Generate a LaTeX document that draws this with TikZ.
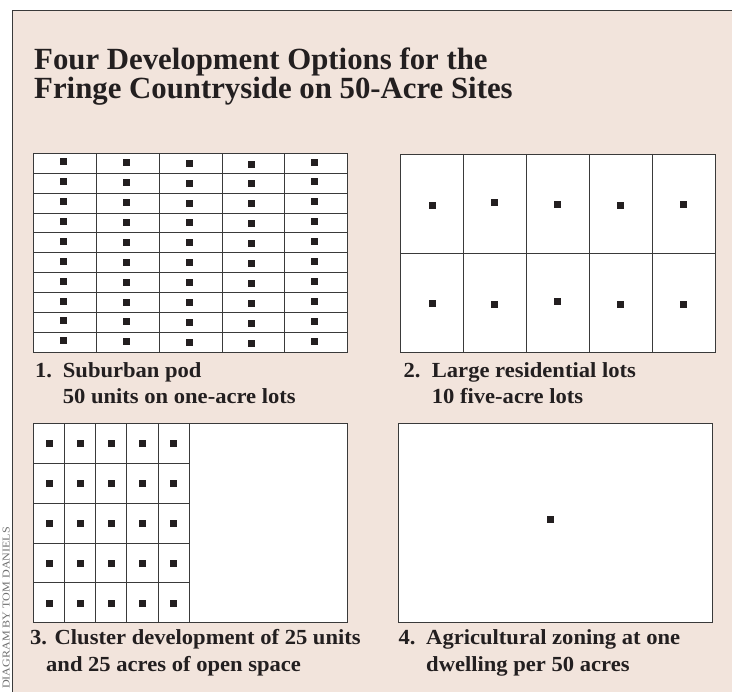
\documentclass[tikz,border=0pt]{standalone}
\usepackage{fontspec}
\setmainfont{Liberation Serif}
\newfontfamily\capfont[FakeStretch=1.05]{Liberation Serif}
\newfontfamily\creditfont[FakeStretch=1.15]{Liberation Serif}
\definecolor{bg}{HTML}{F2E4DC}
\definecolor{ink}{HTML}{231F20}
\definecolor{rule}{HTML}{3A3A3A}
\definecolor{credit}{HTML}{707070}
\begin{document}
\begin{tikzpicture}[x=1pt,y=-1pt,
  grid/.style={draw=rule,line width=0.8pt},
  panel/.style={draw=rule,fill=white,line width=0.9pt},
  dot/.style={fill=ink},
  ttl/.style={inner sep=0pt,anchor=base west,text=ink,font=\bfseries\fontsize{30.8}{32}\selectfont},
  captxt/.style={inner sep=0pt,anchor=base west,text=ink,font=\capfont\bfseries\fontsize{21.5}{24}\selectfont}]
\useasboundingbox (0,0) rectangle (732,692);
% background and frame
\fill[bg] (12,10.5) rectangle (732,692);
\draw[draw=rule,line width=1pt] (12,692) -- (12,10.5) -- (732,10.5);
% credit
\node[rotate=90,anchor=base west,inner sep=0pt,text=credit,font=\creditfont\fontsize{10.5}{11}\selectfont] (credit) at (9.6,689) {DIAGRAM BY TOM DANIELS};
% title
\node[ttl] (title1) at (34,69.3) {Four Development Options for the};
\node[ttl] (title2) at (34,99) {Fringe Countryside on 50-Acre Sites};

% Panel 1: suburban pod
\draw[panel] (33.3,153.3) rectangle (347.7,352.3);
\foreach \i in {1,...,4} \draw[grid] ({33.3+\i*62.88},153.3) -- ({33.3+\i*62.88},352.3);
\foreach \j in {1,...,9} \draw[grid] (33.3,{153.3+\j*19.9}) -- (347.7,{153.3+\j*19.9});
\foreach \i/\dy in {0/-1.5,1/-0.5,2/0,3/0.8,4/-1.2}
  \foreach \j in {0,...,9}
    \fill[dot] ({33.3+62.88*(\i+0.5)-1.5-3.5},{153.3+19.9*(\j+0.5)+\dy-3.5}) rectangle ++(7,7);
\node[captxt] (c1n) at (35,377.7) {1.};
\node[captxt] (c1a) at (62.7,377.7) {Suburban pod};
\node[captxt] (c1b) at (62.7,403.3) {50 units on one-acre lots};

% Panel 2: large residential lots
\draw[panel] (400.7,154) rectangle (715,352.7);
\foreach \i in {1,...,4} \draw[grid] ({400.7+\i*62.86},154) -- ({400.7+\i*62.86},352.7);
\draw[grid] (400.7,253.35) -- (715,253.35);
\foreach \i/\da/\db in {0/2/1,1/-1/2,2/1/-1,3/2/2,4/1/2}{
  \fill[dot] ({400.7+62.86*(\i+0.5)-3.5},{203.7+\da-3.5}) rectangle ++(7,7);
  \fill[dot] ({400.7+62.86*(\i+0.5)-3.5},{303+\db-3.5}) rectangle ++(7,7);
}
\node[captxt] (c2n) at (403.3,377.7) {2.};
\node[captxt] (c2a) at (431.7,377.7) {Large residential lots};
\node[captxt] (c2b) at (431.7,403.3) {10 five-acre lots};

% Panel 3: cluster development
\draw[panel] (33.7,423.3) rectangle (347.7,622.7);
\foreach \i in {1,...,5} \draw[grid] ({33.7+\i*31.06},423.3) -- ({33.7+\i*31.06},622.7);
\foreach \j in {1,...,4} \draw[grid] (33.7,{423.3+\j*39.88}) -- (189,{423.3+\j*39.88});
\foreach \i in {0,...,4}
  \foreach \j in {0,...,4}
    \fill[dot] ({33.7+31.06*(\i+0.5)-3.5},{423.3+39.88*(\j+0.5)+0.5-3.5}) rectangle ++(7,7);
\node[captxt] (c3a) at (30,645) {3. Cluster development of 25 units};
\node[captxt] (c3b) at (46,672) {and 25 acres of open space};

% Panel 4: agricultural zoning
\draw[panel] (398.3,423.3) rectangle (712.7,622.7);
\fill[dot] (546.5,515.8) rectangle ++(7,7);
\node[captxt] (c4n) at (398.3,645) {4.};
\node[captxt] (c4a) at (426,645) {Agricultural zoning at one};
\node[captxt] (c4b) at (426,672) {dwelling per 50 acres};
\end{tikzpicture}
\end{document}
